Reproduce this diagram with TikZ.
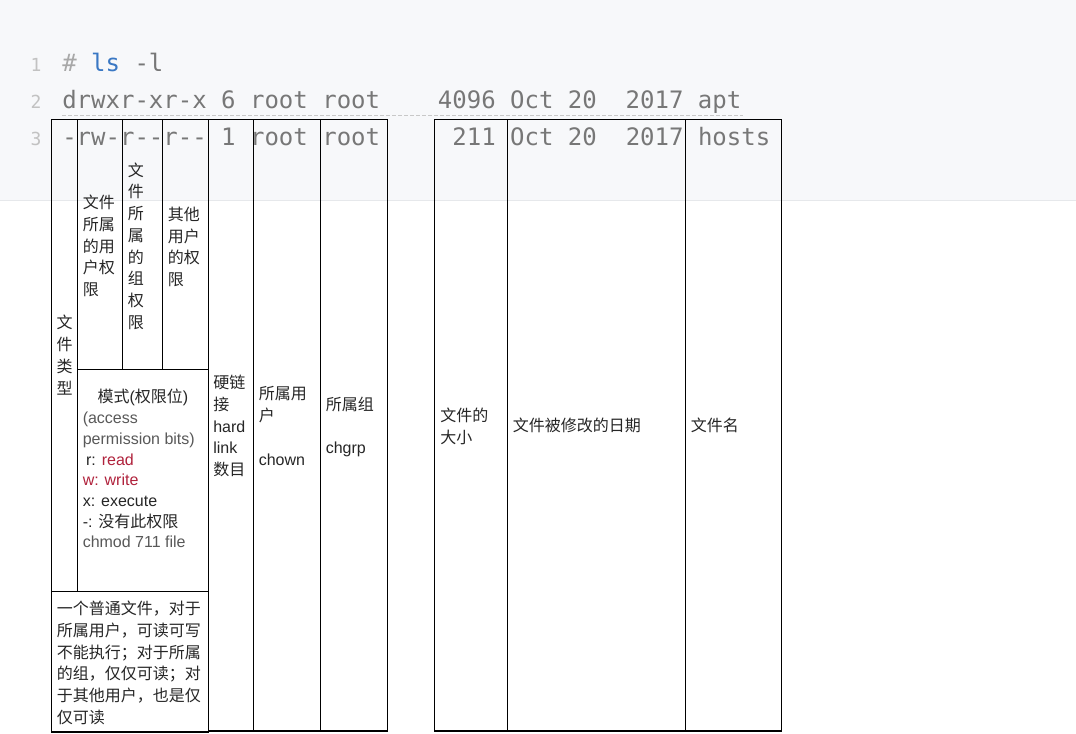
\documentclass[tikz,border=0pt]{standalone}
\usepackage{fontspec}
\setmainfont{Liberation Sans}
\setmonofont{DejaVu Sans Mono}
\newfontfamily\cjk{Noto Sans CJK SC}
\definecolor{bggray}{HTML}{F7F8FA}
\definecolor{rulegray}{HTML}{E6E8EB}
\definecolor{codegray}{HTML}{777777}
\definecolor{numgray}{HTML}{C2C2C2}
\definecolor{hashgray}{HTML}{A8A8A8}
\definecolor{lsblue}{HTML}{3A78C4}
\definecolor{dashgray}{HTML}{C8C8C8}
\definecolor{permred}{HTML}{B0223C}

\begin{document}
\begin{tikzpicture}[x=0.75pt, y=-0.75pt]
	\tikzstyle{cellStyle}=[draw=black, line width=1pt]
	\tikzstyle{codeStyle}=[anchor=base west, inner sep=0pt, font=\ttfamily\fontsize{18}{18}\selectfont, text=codegray]
	\tikzstyle{numStyle}=[anchor=base, inner sep=0pt, font=\ttfamily\fontsize{13.5}{13.5}\selectfont, text=numgray]
	\tikzstyle{cjkStyle}=[anchor=west, inner sep=0pt, align=left, font=\cjk\fontsize{12}{16.3}\selectfont, text=black!85]
	\tikzstyle{mixStyle}=[anchor=west, inner sep=0pt, align=left, font=\fontsize{12}{15.5}\selectfont, text=black!85]
	\useasboundingbox (0,0) rectangle (1076,733);
	\fill[white] (0,0) rectangle (1076,733);
	\fill[bggray] (0,0) rectangle (1076,200);
	\draw[rulegray] (0,200) -- (1076,200);
	\node[numStyle] (n1) at (36,71) {1};
	\node[numStyle] (n2) at (36,108) {2};
	\node[numStyle] (n3) at (36,145) {3};
	\node[codeStyle] (cmd) at (62,71) {\textcolor{hashgray}{\#}~\textcolor{lsblue}{ls}~-l};
	\node[codeStyle] (aptLine) at (62,108) {drwxr-xr-x~6~root~root~~~~4096~Oct~20~~2017~apt};
	\node[codeStyle] (hostsLine) at (62,145) {-rw-r--r--~1~root~root~~~~~211~Oct~20~~2017~hosts};
	\draw[dashgray, dash pattern=on 3pt off 1.5pt] (62,115) -- (743,115);
	\draw[cellStyle] (51.7,119.3) rectangle (77.3,591.7);
	\draw[cellStyle] (77.3,119.3) rectangle (122.7,369.3);
	\draw[cellStyle] (122.7,119.3) rectangle (162.3,369.3);
	\draw[cellStyle] (162.3,119.3) rectangle (208.3,369.3);
	\draw[cellStyle] (77.3,369.3) rectangle (208.3,591.7);
	\draw[cellStyle] (51.7,591.7) rectangle (208.3,732);
	\foreach \xa/\xb in {208.3/253.3, 253.3/320.7, 320.7/387.7, 434.5/507.3, 507.3/685.7, 685.7/781.5}
		\draw[cellStyle] (\xa,119.3) rectangle (\xb,731);
	\node[cjkStyle, anchor=center, align=center] (fileType) at (64.5,355) {文\\件\\类\\型};
	\node[cjkStyle] (userPerm) at (82.5,246) {文件\\所属\\的用\\户权\\限};
	\node[cjkStyle] (groupPerm) at (127.5,246) {文\\件\\所\\属\\的\\组\\权\\限};
	\node[cjkStyle] (otherPerm) at (167.5,247) {其他\\用户\\的权\\限};
	\node[mixStyle, anchor=center] (modeTitle) at (143,397) {{\cjk 模式}({\cjk 权限位})};
	\node[mixStyle] (modeBits) at (82.5,480) {\textcolor{black!65}{(access}\\\textcolor{black!65}{permission bits)}\\\hspace{2.5pt}r: \textcolor{permred}{read}\\\textcolor{permred}{w: write}\\x: execute\\-: {\cjk 没有此权限}\\\textcolor{black!65}{chmod 711 file}};
	\node[cjkStyle] (example) at (56.5,663) {一个普通文件，对于\\所属用户，可读可写\\不能执行；对于所属\\的组，仅仅可读；对\\于其他用户，也是仅\\仅可读};
	\node[mixStyle, font=\fontsize{12}{16.3}\selectfont] (hardLink) at (213,426) {{\cjk 硬链}\\{\cjk 接}\\hard\\link\\{\cjk 数目}};
	\node[mixStyle, font=\fontsize{12}{16.3}\selectfont] (owner) at (258.5,426) {{\cjk 所属用}\\{\cjk 户}\\\mbox{}\\chown};
	\node[mixStyle, font=\fontsize{12}{16.3}\selectfont] (group) at (325.5,427) {{\cjk 所属组}\\\mbox{}\\chgrp};
	\node[cjkStyle] (fileSize) at (440,426) {文件的\\大小};
	\node[cjkStyle] (modDate) at (512.5,425) {文件被修改的日期};
	\node[cjkStyle] (fileName) at (690.5,425) {文件名};
\end{tikzpicture}
\end{document}
